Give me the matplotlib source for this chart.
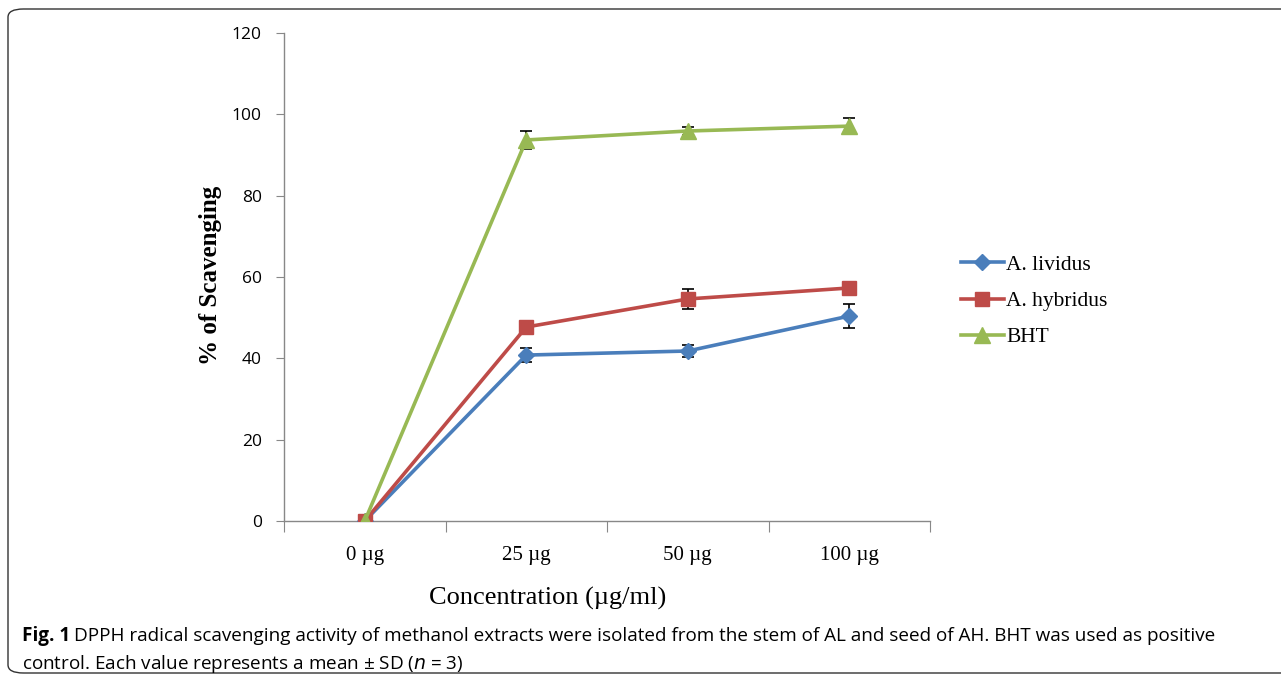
import matplotlib.pyplot as plt
from matplotlib.lines import Line2D
from matplotlib.patches import FancyBboxPatch

categories = ['0 µg', '25 µg', '50 µg', '100 µg']
lividus = [0, 40.8, 41.8, 50.4]
lividus_sd = [0, 1.7, 1.5, 3.0]
hybridus = [0, 47.7, 54.6, 57.3]
hybridus_sd = [0, 0, 2.4, 1.5]
bht = [0, 93.7, 95.9, 97.1]
bht_sd = [0, 2.2, 1.0, 2.0]

SERIF = 'Liberation Serif'
SANS = ['Open Sans', 'DejaVu Sans']


def main():
    fig = plt.figure(figsize=(12.81, 6.81), dpi=100)
    ax = fig.add_axes([284 / 1281, 1 - 521 / 681, 646 / 1281, 488 / 681])

    x = list(range(len(categories)))
    series = [
        (lividus, lividus_sd, '#4a7ebb', 'D', 8, 'A. lividus'),
        (hybridus, hybridus_sd, '#be4b48', 's', 10, 'A. hybridus'),
        (bht, bht_sd, '#98b954', '^', 11, 'BHT'),
    ]
    handles = []
    for vals, sd, color, marker, ms, label in series:
        ax.errorbar(x, vals, yerr=sd, color=color, ecolor='black', elinewidth=1.2,
                    capsize=4, capthick=1.2, linewidth=2.6, marker=marker,
                    markersize=ms, zorder=3)
        handles.append(Line2D([], [], color=color, linewidth=2.6, marker=marker,
                              markersize=ms, label=label))

    ax.set_xlim(-0.5, 3.5)
    ax.set_ylim(0, 120)
    ax.set_yticks(range(0, 121, 20))
    ax.set_xticks([i - 0.5 for i in range(5)])
    ax.set_xticklabels([])
    ax.set_xticks(x, minor=True)
    ax.set_xticklabels(categories, minor=True, fontfamily=SERIF, fontsize=15)
    ax.tick_params(axis='x', which='minor', length=0, pad=18)
    ax.tick_params(axis='x', which='major', length=8, color='#888888', direction='out')
    ax.tick_params(axis='y', length=6, color='#888888', labelsize=12.5, pad=10)
    for lbl in ax.get_yticklabels():
        lbl.set_fontfamily(SANS)
    for side in ('top', 'right'):
        ax.spines[side].set_visible(False)
    for side in ('left', 'bottom'):
        ax.spines[side].set_color('#888888')
        ax.spines[side].set_linewidth(1.0)

    ax.set_ylabel('% of Scavenging', fontfamily=SERIF, fontsize=18,
                  fontweight='bold')
    ax.yaxis.set_label_coords((222 - 284) / 646, (521 - 275) / 488)
    ax.set_xlabel('Concentration (µg/ml)', fontfamily=SERIF, fontsize=19)
    ax.xaxis.set_label_coords((548 - 284) / 646, -(598 - 521) / 488)
    ax.xaxis.label.set_va('center')

    ax.legend(handles=handles, loc='center left',
              bbox_to_anchor=((950 - 284) / 646, (521 - 301) / 488),
              frameon=False, prop={'family': SERIF, 'size': 15.5},
              handlelength=2.0, handletextpad=0.1, labelspacing=0.75,
              borderpad=0)

    fig.text(22 / 1281, 1 - 636 / 681, 'Fig. 1', fontfamily=SANS, fontweight='bold',
             fontsize=13.6, va='center')
    fig.text(74 / 1281, 1 - 636 / 681,
             'DPPH radical scavenging activity of methanol extracts were isolated from the '
             'stem of AL and seed of AH. BHT was used as positive',
             fontfamily=SANS, fontsize=13.6, va='center')
    fig.text(22 / 1281, 1 - 664 / 681,
             'control. Each value represents a mean ± SD ($\\it{n}$ = 3)',
             fontfamily=SANS, fontsize=13.6, va='center')

    frame = FancyBboxPatch((8 / 1281, 8 / 681), 1300 / 1281, 664 / 681,
                           boxstyle='round,pad=0,rounding_size=0.012',
                           transform=fig.transFigure, fill=False,
                           edgecolor='#333333', linewidth=1.0)
    fig.patches.append(frame)

    fig.savefig('out.png', dpi=100)
    plt.close(fig)


main()
